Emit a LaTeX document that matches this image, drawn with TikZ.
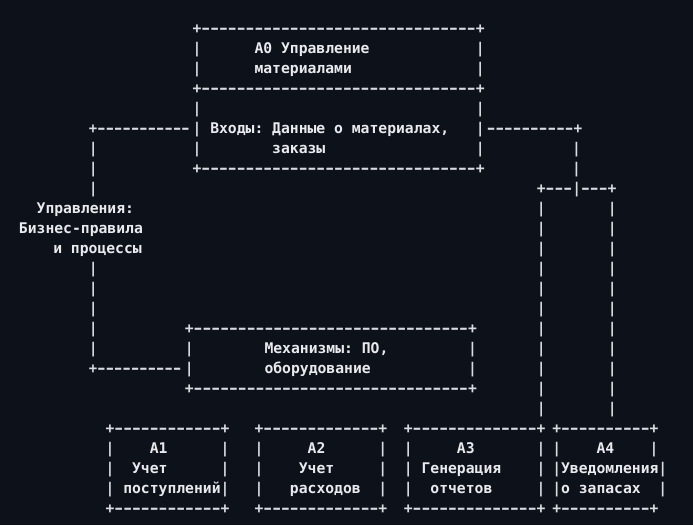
\documentclass[tikz,border=0pt]{standalone}
\usepackage{fontspec}
\usepackage{graphicx}
\setmonofont{DejaVu Sans Mono}
\definecolor{bg}{HTML}{0D111A}
\definecolor{fg}{HTML}{E8EAED}
\definecolor{lc}{HTML}{D8DBE0}
\newcommand\rep[2]{\foreach\i in {1,...,#1}{#2}}
\newcommand\dsh{\makebox[0.60205em][c]{\scalebox{1.45}[1]{-}}}
\newcommand\seg[6]{\node[#1] (#2) at ({#3+8.85*(#4)-4.425},{#5*20+33}) {#6};}
\newcommand\vb[4]{\seg{ln}{#1}{#2}{#3}{#4}{|}}
\newcommand\brd[1]{+\rep{#1}{\dsh}+}
\tikzset{
  basetxt/.style={anchor=base west, inner sep=0pt, outer sep=0pt},
  ln/.style={basetxt, text=lc, font=\ttfamily\bfseries\fontsize{14.7}{20}\selectfont},
  lbl/.style={basetxt, text=fg, font=\ttfamily\bfseries\fontsize{14.7}{20}\selectfont},
}
\begin{document}
\begin{tikzpicture}[x=1pt,y=-1pt]
\fill[bg] (0,0) rectangle (693,525);
\useasboundingbox (0,0) rectangle (693,525);
% A0 box
\seg{ln}{a0r0}{197}{0}{0}{\brd{31}}
\vb{a0r1l}{197}{0}{1} \seg{lbl}{a0t1}{197}{7}{1}{A0 Управление} \vb{a0r1r}{197}{32}{1}
\vb{a0r2l}{197}{0}{2} \seg{lbl}{a0t2}{197}{7}{2}{материалами} \vb{a0r2r}{197}{32}{2}
\seg{ln}{a0r3}{197}{0}{3}{\brd{31}}
\vb{a0r4l}{197}{0}{4} \vb{a0r4r}{197}{32}{4}
\vb{a0r5l}{197}{0}{5} \seg{lbl}{inp1}{197}{2}{5}{Входы: Данные о материалах,} \vb{a0r5r}{197}{32}{5}
\vb{a0r6l}{197}{0}{6} \seg{lbl}{inp2}{197}{9}{6}{заказы} \vb{a0r6r}{197}{32}{6}
\seg{ln}{a0r7}{197}{0}{7}{\brd{31}}
% left connector
\seg{ln}{lc5}{93.3}{0}{5}{\scalebox{0.95}[1]{+\rep{11}{\dsh}}}
\foreach \r in {6,7,8,12,13,14,15,16} {\vb{lc\r}{93.3}{0}{\r}}
\seg{ln}{lc17}{93.3}{0}{17}{\scalebox{0.95}[1]{+\rep{10}{\dsh}}}
% right connector
\seg{ln}{rc5}{199.2}{33}{5}{\scalebox{0.98}[1]{\rep{10}{\dsh}+}}
\vb{rc6}{576.6}{0}{6} \vb{rc7}{576.6}{0}{7}
\seg{ln}{split}{541.3}{0}{8}{+\rep{3}{\dsh}|\rep{3}{\dsh}+}
\foreach \r in {9,...,19} {\vb{va\r}{541.3}{0}{\r} \vb{vb\r}{612.3}{0}{\r}}
% control label
\seg{lbl}{ctl1}{41.1}{0}{9}{Управления:}
\seg{lbl}{ctl2}{23.4}{0}{10}{Бизнес-правила}
\seg{lbl}{ctl3}{57.7}{0}{11}{и процессы}
% mechanisms box
\seg{ln}{m15}{189.3}{0}{15}{\brd{31}}
\vb{m16l}{189.3}{0}{16} \seg{lbl}{mech1}{189.3}{9}{16}{Механизмы: ПО,} \vb{m16r}{189.3}{32}{16}
\vb{m17l}{189.3}{0}{17} \seg{lbl}{mech2}{189.3}{9}{17}{оборудование} \vb{m17r}{189.3}{32}{17}
\seg{ln}{m18}{189.3}{0}{18}{\brd{31}}
% A1
\seg{ln}{a1t}{110}{0}{20}{\brd{12}}
\vb{a1l21}{110}{0}{21} \seg{lbl}{a1n}{110}{5}{21}{A1} \vb{a1r21}{110}{13}{21}
\vb{a1l22}{110}{0}{22} \seg{lbl}{a1x1}{110}{3}{22}{Учет} \vb{a1r22}{110}{13}{22}
\vb{a1l23}{110}{0}{23} \seg{lbl}{a1x2}{110}{2}{23}{поступлений} \vb{a1r23}{110}{13}{23}
\seg{ln}{a1b}{110}{0}{24}{\brd{12}}
% A2
\seg{ln}{a2t}{259}{0}{20}{\brd{13}}
\vb{a2l21}{259}{0}{21} \seg{lbl}{a2n}{259}{6}{21}{A2} \vb{a2r21}{259}{14}{21}
\vb{a2l22}{259}{0}{22} \seg{lbl}{a2x1}{259}{5}{22}{Учет} \vb{a2r22}{259}{14}{22}
\vb{a2l23}{259}{0}{23} \seg{lbl}{a2x2}{259}{4}{23}{расходов} \vb{a2r23}{259}{14}{23}
\seg{ln}{a2b}{259}{0}{24}{\brd{13}}
% A3
\seg{ln}{a3t}{408.3}{0}{20}{\brd{14}}
\vb{a3l21}{408.3}{0}{21} \seg{lbl}{a3n}{408.3}{6}{21}{A3} \vb{a3r21}{408.3}{15}{21}
\vb{a3l22}{408.3}{0}{22} \seg{lbl}{a3x1}{408.3}{2}{22}{Генерация} \vb{a3r22}{408.3}{15}{22}
\vb{a3l23}{408.3}{0}{23} \seg{lbl}{a3x2}{408.3}{3}{23}{отчетов} \vb{a3r23}{408.3}{15}{23}
\seg{ln}{a3b}{408.3}{0}{24}{\brd{14}}
% A4
\seg{ln}{a4t}{556.7}{0}{20}{\brd{10}}
\vb{a4l21}{556.7}{0}{21} \seg{lbl}{a4n}{556.7}{5}{21}{A4} \vb{a4r21}{556.7}{11}{21}
\vb{a4l22}{556.7}{0}{22} \seg{lbl}{a4x1}{556.7}{1}{22}{Уведомления} \vb{a4r22}{556.7}{12}{22}
\vb{a4l23}{556.7}{0}{23} \seg{lbl}{a4x2}{556.7}{1}{23}{о запасах} \vb{a4r23}{556.7}{12}{23}
\seg{ln}{a4b}{556.7}{0}{24}{\brd{10}}
\end{tikzpicture}
\end{document}
